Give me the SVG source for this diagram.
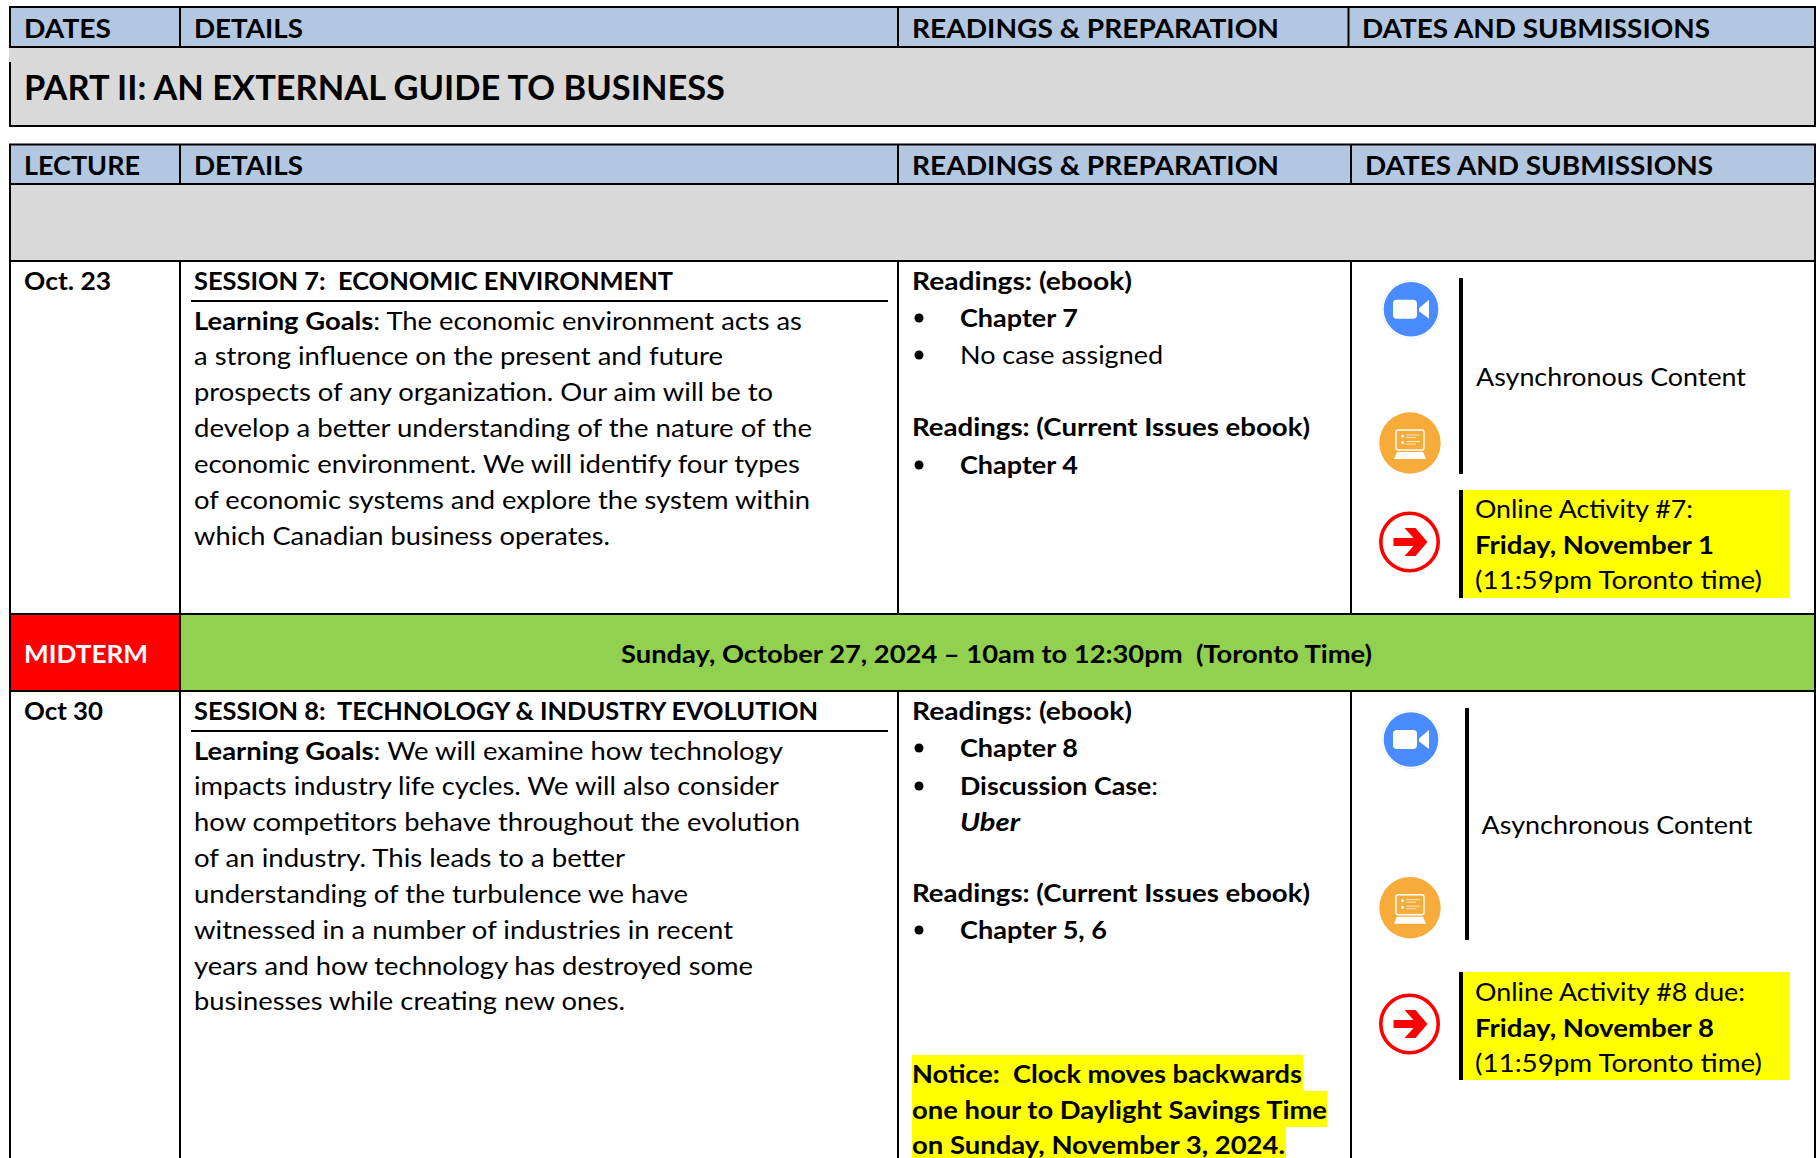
<svg xmlns="http://www.w3.org/2000/svg" width="1816" height="1158" viewBox="0 0 1816 1158">
<style>
text{font-family:Lato,"Liberation Sans",sans-serif;font-size:24.5px;fill:#000;white-space:pre}
.b{font-weight:700}
.h{font-weight:700;font-size:27px}
.k{stroke:#000;stroke-width:2;fill:none}
.bar{fill:#000}
.y{fill:#ff0}
</style>
<defs>
<g id="zoom"><circle r="29" fill="#fff" stroke="#f0f0f0" stroke-width="1"/><circle r="27.300" fill="#4a8cff"/><rect x="-18" y="-9.500" width="24" height="19" rx="4" fill="#fff"/><path d="M8 -1 18 -9.500V9.500L8 2Z" fill="#fff"/></g>
<g id="laptop"><circle r="30.700" fill="#f6ab3b"/><rect x="-14" y="-13" width="28" height="20" rx="2.500" fill="none" stroke="#fff" stroke-width="1.400"/><circle cx="-7.500" cy="-7" r="1.500" fill="#fff"/><circle cx="-7.500" cy="-0.500" r="1.500" fill="#fff"/><path d="M-4 -8H10M-4 -5.500H6M-4 -1.500H10M-4 1H6" stroke="#fff" stroke-width="1" opacity=".7"/><path d="M-13 9H13L16 16H-16Z" fill="#fff"/></g>
<g id="go"><circle r="28.700" fill="#fff" stroke="#f00" stroke-width="3.600"/><path d="M-16 -4H4L-5 -14H6L18 0 6 14H-5L4 4H-16Z" fill="#f00"/></g>
</defs>
<rect width="1816" height="1158" fill="#fff"/>
<g id="fills">
<rect x="10" y="7" width="1806" height="40" fill="#b4c7e1"/>
<rect x="9" y="47" width="1807" height="79" fill="#d9d9d9"/>
<rect x="10" y="144" width="1806" height="40" fill="#b4c7e1"/>
<rect x="10" y="184" width="1806" height="77" fill="#d9d9d9"/>
<rect x="10" y="614" width="170" height="77" fill="#f00"/>
<rect x="180" y="614" width="1636" height="77" fill="#92d050"/>
</g>
<g id="connectors" class="k">
<path d="M9 7H1816M9 47H1816M9 126H1816M9 144.500H1816M9 184H1816M9 261H1816M9 614H1816M9 691H1816"/>
<path d="M10 6V47M10 62V127M180 7V47M898 7V47M1348.500 7V47M1815 6V127M10 144V1158M180 144V184M180 261V1158M898 144V184M898 261V614M898 691V1158M1351 144V184M1351 261V614M1351 691V1158M1815 144V1158"/>
<path d="M191 301H888M191 731H888"/>
</g>
<g id="header-1">
<text class="h" x="24" y="38" textLength="87" lengthAdjust="spacingAndGlyphs">DATES</text>
<text class="h" x="194" y="38" textLength="109" lengthAdjust="spacingAndGlyphs">DETAILS</text>
<text class="h" x="912" y="38" textLength="367" lengthAdjust="spacingAndGlyphs">READINGS &amp; PREPARATION</text>
<text class="h" x="1362" y="38" textLength="348" lengthAdjust="spacingAndGlyphs">DATES AND SUBMISSIONS</text>
</g>
<g id="part-title"><text class="b" style="font-size:34px" x="24" y="100" textLength="701" lengthAdjust="spacingAndGlyphs">PART II: AN EXTERNAL GUIDE TO BUSINESS</text></g>
<g id="header-2">
<text class="h" x="24" y="175" textLength="116" lengthAdjust="spacingAndGlyphs">LECTURE</text>
<text class="h" x="194" y="175" textLength="109" lengthAdjust="spacingAndGlyphs">DETAILS</text>
<text class="h" x="912" y="175" textLength="367" lengthAdjust="spacingAndGlyphs">READINGS &amp; PREPARATION</text>
<text class="h" x="1365" y="175" textLength="348" lengthAdjust="spacingAndGlyphs">DATES AND SUBMISSIONS</text>
</g>
<g id="session-7-date"><text class="b" x="24" y="290" textLength="87" lengthAdjust="spacingAndGlyphs">Oct. 23</text></g>
<g id="session-7-details">
<text class="b" x="194" y="290" textLength="479" lengthAdjust="spacingAndGlyphs">SESSION 7:  ECONOMIC ENVIRONMENT</text>
<text x="194" y="330" textLength="608" lengthAdjust="spacingAndGlyphs"><tspan class="b">Learning Goals</tspan>: The economic environment acts as</text>
<text x="194" y="365" textLength="529" lengthAdjust="spacingAndGlyphs">a strong influence on the present and future</text>
<text x="194" y="401" textLength="579" lengthAdjust="spacingAndGlyphs">prospects of any organization. Our aim will be to</text>
<text x="194" y="437" textLength="618" lengthAdjust="spacingAndGlyphs">develop a better understanding of the nature of the</text>
<text x="194" y="473" textLength="606" lengthAdjust="spacingAndGlyphs">economic environment. We will identify four types</text>
<text x="194" y="509" textLength="616" lengthAdjust="spacingAndGlyphs">of economic systems and explore the system within</text>
<text x="194" y="545" textLength="416" lengthAdjust="spacingAndGlyphs">which Canadian business operates.</text>
</g>
<g id="session-7-readings">
<text class="b" x="912" y="290" textLength="220" lengthAdjust="spacingAndGlyphs">Readings: (ebook)</text>
<circle cx="919" cy="318" r="4.500"/><text class="b" x="960" y="327" textLength="118" lengthAdjust="spacingAndGlyphs">Chapter 7</text>
<circle cx="919" cy="355" r="4.500"/><text x="960" y="364" textLength="203" lengthAdjust="spacingAndGlyphs">No case assigned</text>
<text class="b" x="912" y="436" textLength="398" lengthAdjust="spacingAndGlyphs">Readings: (Current Issues ebook)</text>
<circle cx="919" cy="465" r="4.500"/><text class="b" x="960" y="474" textLength="118" lengthAdjust="spacingAndGlyphs">Chapter 4</text>
</g>
<g id="session-7-submissions">
<use href="#zoom" x="1411" y="309.300"/>
<use href="#laptop" x="1410" y="443"/>
<use href="#go" x="1409.500" y="542"/>
<rect class="bar" x="1459" y="278" width="4" height="196"/>
<text x="1476" y="386" textLength="270" lengthAdjust="spacingAndGlyphs">Asynchronous Content</text>
<rect class="y" x="1463" y="490" width="327" height="108"/>
<rect class="bar" x="1459" y="490" width="4" height="108"/>
<text x="1475" y="518" textLength="218" lengthAdjust="spacingAndGlyphs">Online Activity #7:</text>
<text class="b" x="1475" y="554" textLength="239" lengthAdjust="spacingAndGlyphs">Friday, November 1</text>
<text x="1475" y="589" textLength="287" lengthAdjust="spacingAndGlyphs">(11:59pm Toronto time)</text>
</g>
<g id="midterm">
<text class="b" style="fill:#fff" x="24" y="663" textLength="124" lengthAdjust="spacingAndGlyphs">MIDTERM</text>
<text class="b" x="621" y="663" textLength="751" lengthAdjust="spacingAndGlyphs">Sunday, October 27, 2024 – 10am to 12:30pm  (Toronto Time)</text>
</g>
<g id="session-8-date"><text class="b" x="24" y="720" textLength="79" lengthAdjust="spacingAndGlyphs">Oct 30</text></g>
<g id="session-8-details">
<text class="b" x="194" y="720" textLength="624" lengthAdjust="spacingAndGlyphs">SESSION 8:  TECHNOLOGY &amp; INDUSTRY EVOLUTION</text>
<text x="194" y="760" textLength="589" lengthAdjust="spacingAndGlyphs"><tspan class="b">Learning Goals</tspan>: We will examine how technology</text>
<text x="194" y="795" textLength="585" lengthAdjust="spacingAndGlyphs">impacts industry life cycles. We will also consider</text>
<text x="194" y="831" textLength="606" lengthAdjust="spacingAndGlyphs">how competitors behave throughout the evolution</text>
<text x="194" y="867" textLength="431" lengthAdjust="spacingAndGlyphs">of an industry. This leads to a better</text>
<text x="194" y="903" textLength="494" lengthAdjust="spacingAndGlyphs">understanding of the turbulence we have</text>
<text x="194" y="939" textLength="539" lengthAdjust="spacingAndGlyphs">witnessed in a number of industries in recent</text>
<text x="194" y="975" textLength="559" lengthAdjust="spacingAndGlyphs">years and how technology has destroyed some</text>
<text x="194" y="1010" textLength="431" lengthAdjust="spacingAndGlyphs">businesses while creating new ones.</text>
</g>
<g id="session-8-readings">
<text class="b" x="912" y="720" textLength="220" lengthAdjust="spacingAndGlyphs">Readings: (ebook)</text>
<circle cx="919" cy="748" r="4.500"/><text class="b" x="960" y="757" textLength="118" lengthAdjust="spacingAndGlyphs">Chapter 8</text>
<circle cx="919" cy="786" r="4.500"/><text x="960" y="795" textLength="198" lengthAdjust="spacingAndGlyphs"><tspan class="b">Discussion Case</tspan>:</text>
<text class="b" font-style="italic" x="960" y="831" textLength="60" lengthAdjust="spacingAndGlyphs">Uber</text>
<text class="b" x="912" y="902" textLength="398" lengthAdjust="spacingAndGlyphs">Readings: (Current Issues ebook)</text>
<circle cx="919" cy="930" r="4.500"/><text class="b" x="960" y="939" textLength="147" lengthAdjust="spacingAndGlyphs">Chapter 5, 6</text>
<rect class="y" x="912" y="1055" width="391" height="36"/>
<rect class="y" x="912" y="1091" width="415" height="36"/>
<rect class="y" x="912" y="1127" width="374" height="31"/>
<text class="b" x="912" y="1083" textLength="390" lengthAdjust="spacingAndGlyphs">Notice:  Clock moves backwards</text>
<text class="b" x="912" y="1119" textLength="415" lengthAdjust="spacingAndGlyphs">one hour to Daylight Savings Time</text>
<text class="b" x="912" y="1154" textLength="373" lengthAdjust="spacingAndGlyphs">on Sunday, November 3, 2024.</text>
</g>
<g id="session-8-submissions">
<use href="#zoom" x="1411" y="739.500"/>
<use href="#laptop" x="1410" y="907.700"/>
<use href="#go" x="1409.500" y="1024"/>
<rect class="bar" x="1465" y="708" width="4" height="232"/>
<text x="1481.500" y="834" textLength="271" lengthAdjust="spacingAndGlyphs">Asynchronous Content</text>
<rect class="y" x="1463" y="972" width="327" height="108"/>
<rect class="bar" x="1459" y="972" width="4" height="108"/>
<text x="1475" y="1001" textLength="270" lengthAdjust="spacingAndGlyphs">Online Activity #8 due:</text>
<text class="b" x="1475" y="1037" textLength="239" lengthAdjust="spacingAndGlyphs">Friday, November 8</text>
<text x="1475" y="1072" textLength="287" lengthAdjust="spacingAndGlyphs">(11:59pm Toronto time)</text>
</g>
</svg>
